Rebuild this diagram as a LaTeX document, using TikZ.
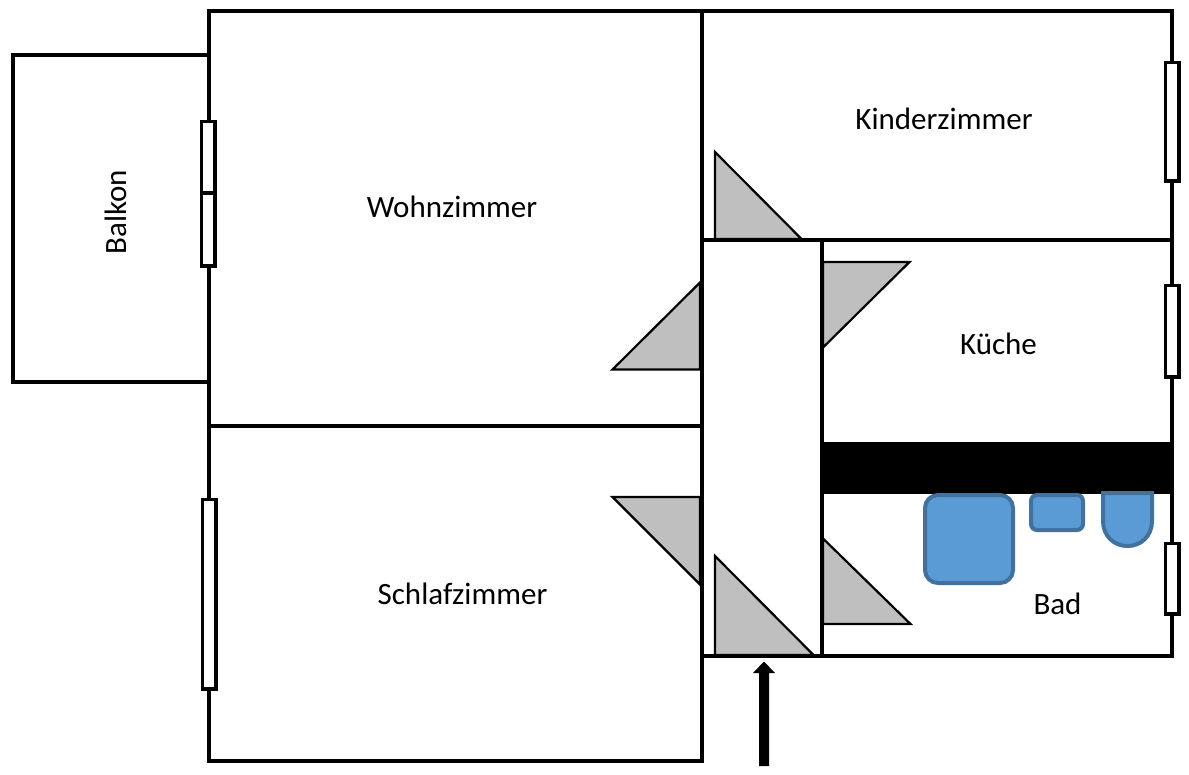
\documentclass[tikz,border=0pt]{standalone}
\usepackage{fontspec}
\setmainfont{Carlito}
\definecolor{doorgray}{HTML}{BFBFBF}
\definecolor{fixfill}{HTML}{5B9BD5}
\definecolor{fixline}{HTML}{41719C}
\tikzset{
  wall/.style={line width=4.8pt,line cap=rect,line join=miter},
  door/.style={draw=black,fill=doorgray,line width=2.2pt,line join=miter},
  pane/.style={draw=black,fill=white,line width=3.4pt},
  fixture/.style={draw=fixline,fill=fixfill,line width=4pt},
  room/.style={font=\fontsize{31}{32}\selectfont,inner sep=0pt}
}
\begin{document}
\begin{tikzpicture}[x=1pt,y=-1pt]
\useasboundingbox[fill=white] (0,0) rectangle (1189,774);
% door leaves
\draw[door] (715,152) -- (715,239) -- (801.5,239) -- cycle;
\draw[door] (823,262) -- (909.5,262) -- (823,347.5) -- cycle;
\draw[door] (700,282.5) -- (612.5,369.5) -- (700,369.5) -- cycle;
\draw[door] (612.5,497) -- (700,497) -- (700,584.5) -- cycle;
\draw[door] (823,538.5) -- (910.5,624) -- (823,624) -- cycle;
\draw[door] (715,556) -- (715,655) -- (813.5,655) -- cycle;
% walls
\draw[wall] (209,11) -- (1172,11) -- (1172,656) -- (702,656);
\draw[wall] (209,11) -- (209,761) -- (702,761) -- (702,11);
\draw[wall] (702,240) -- (1172,240);
\draw[wall] (822,240) -- (822,656);
\draw[wall] (209,426) -- (702,426);
\draw[wall] (207,55) -- (13,55) -- (13,382) -- (207,382);
\fill[black] (821,442) rectangle (1173.5,493.5);
% fixtures
\draw[fixture,rounded corners=13pt] (925,495) rectangle (1013,583);
\draw[fixture,rounded corners=6pt] (1031,495) rectangle (1083,530);
\draw[fixture] (1103,493) -- (1103,521) .. controls (1103,536) and (1114,546) .. (1127.5,546) .. controls (1141,546) and (1152,536) .. (1152,521) -- (1152,493) -- cycle;
% windows
\draw[pane] (201.5,121.5) rectangle (215,193);
\draw[pane] (201.5,193) rectangle (215,266);
\draw[pane] (202.5,499.5) rectangle (216,689);
\draw[pane] (1165.5,62.5) rectangle (1179,181);
\draw[pane] (1165.5,285.5) rectangle (1179,377);
\draw[pane] (1165.5,543.5) rectangle (1179,614);
% entrance arrow
\fill[black] (759,766) -- (759,673) -- (753,673) -- (764,661.5) -- (775,673) -- (769,673) -- (769,766) -- cycle;
% labels
\node[room] (wohn) at (452,207) {Wohnzimmer};
\node[room] (kinder) at (944,119) {Kinderzimmer};
\node[room] (kueche) at (998.5,344) {Küche};
\node[room] (schlaf) at (462.5,594) {Schlafzimmer};
\node[room] (bad) at (1057.5,604) {Bad};
\node[room,rotate=90] (balkon) at (116,212) {Balkon};
\end{tikzpicture}
\end{document}
